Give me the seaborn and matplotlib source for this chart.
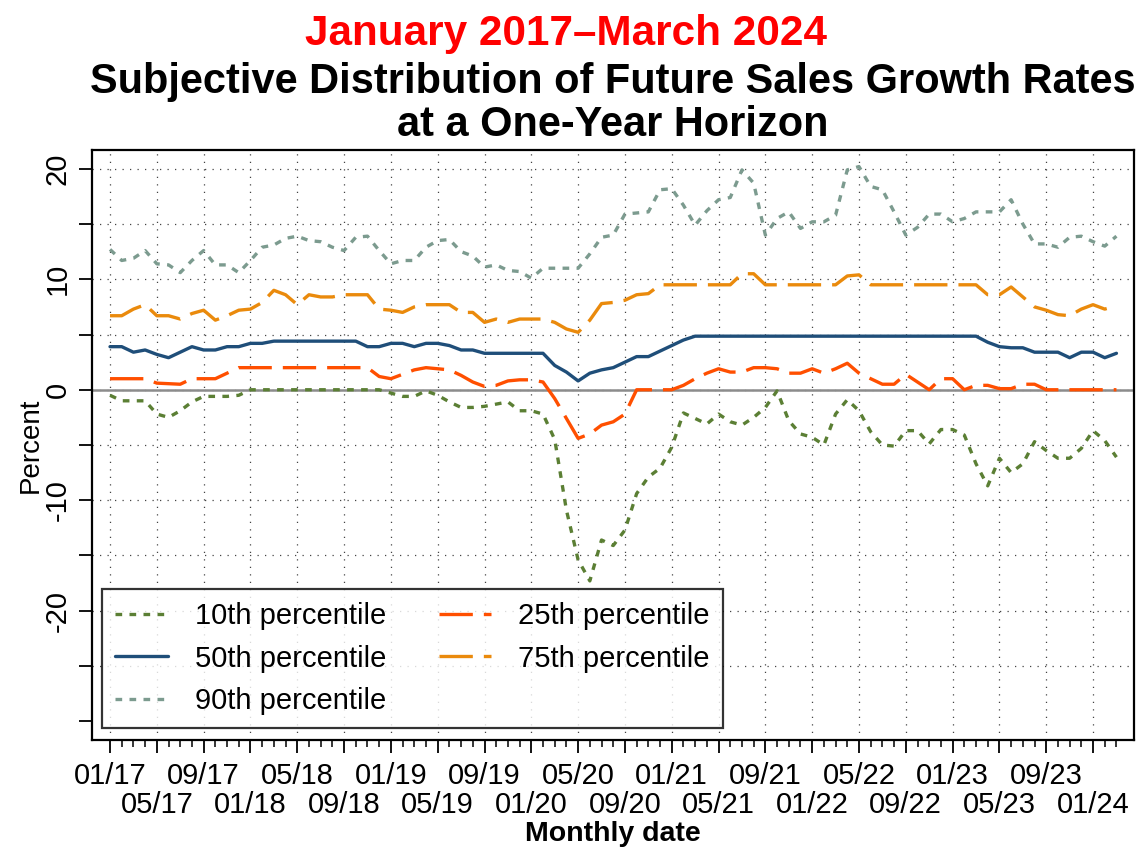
import numpy as np
import pandas as pd
import matplotlib
matplotlib.use("Agg")
import matplotlib.pyplot as plt
import seaborn as sns

# monthly dates, Jan 2017 - Mar 2024
months = pd.date_range("2017-01-01", "2024-03-01", freq="MS")

# percentiles of the subjective sales growth distribution
p10 = [-0.5, -1.0, -1.0, -1.0, -2.2, -2.5, -1.9, -1.1, -0.6, -0.6, -0.6, -0.5,
       0.0, 0.0, 0.0, 0.0, 0.0, 0.0, 0.0, 0.0, 0.0, 0.0, 0.0, 0.0,
       -0.3, -0.6, -0.6, -0.1, -0.5, -1.1, -1.6, -1.6, -1.5, -1.3, -1.1, -1.9,
       -1.9, -2.2, -4.5, -10.9, -15.4, -17.3, -13.6, -14.1, -12.7, -9.4, -7.9, -7.1,
       -5.2, -2.1, -2.6, -3.1, -2.2, -2.9, -3.2, -2.5, -1.6, -0.1, -2.8, -4.0,
       -4.3, -5.0, -2.2, -0.9, -1.9, -3.8, -5.0, -5.1, -3.7, -3.7, -4.9, -3.6,
       -3.6, -4.1, -6.7, -8.7, -6.2, -7.5, -6.7, -4.7, -5.5, -6.2, -6.2, -5.3,
       -3.7, -4.6, -6.1]
p25 = [1.0, 1.0, 1.0, 1.0, 0.6, 0.55, 0.5, 1.0, 1.0, 1.0, 1.5, 2.0,
       2.0, 2.0, 2.0, 2.0, 2.0, 2.0, 2.0, 2.0, 2.0, 2.0, 2.0, 1.2,
       1.0, 1.4, 1.8, 2.0, 1.9, 1.8, 1.3, 0.7, 0.3, 0.4, 0.8, 0.9,
       0.9, 0.7, -0.8, -2.6, -4.4, -4.0, -3.2, -2.9, -2.2, 0.0, 0.0, 0.0,
       0.0, 0.4, 1.0, 1.5, 1.9, 1.6, 1.6, 2.0, 2.0, 1.9, 1.5, 1.5,
       1.9, 1.5, 1.9, 2.4, 1.5, 1.0, 0.5, 0.5, 1.4, 0.7, 0.0, 1.0,
       1.0, 0.0, 0.4, 0.4, 0.1, 0.1, 0.5, 0.5, 0.0, 0.0, 0.0, 0.0,
       0.0, 0.0, 0.0]
p50 = [3.9, 3.9, 3.4, 3.6, 3.2, 2.9, 3.4, 3.9, 3.6, 3.6, 3.9, 3.9,
       4.2, 4.2, 4.4, 4.4, 4.4, 4.4, 4.4, 4.4, 4.4, 4.4, 3.9, 3.9,
       4.2, 4.2, 3.9, 4.2, 4.2, 4.0, 3.6, 3.6, 3.3, 3.3, 3.3, 3.3,
       3.3, 3.3, 2.2, 1.6, 0.8, 1.5, 1.8, 2.0, 2.5, 3.0, 3.0, 3.5,
       4.0, 4.5, 4.85, 4.85, 4.85, 4.85, 4.85, 4.85, 4.85, 4.85, 4.85, 4.85,
       4.85, 4.85, 4.85, 4.85, 4.85, 4.85, 4.85, 4.85, 4.85, 4.85, 4.85, 4.85,
       4.85, 4.85, 4.85, 4.3, 3.9, 3.8, 3.8, 3.4, 3.4, 3.4, 2.9, 3.4,
       3.4, 2.9, 3.3]
p75 = [6.7, 6.7, 7.3, 7.7, 6.7, 6.7, 6.4, 6.9, 7.2, 6.3, 6.7, 7.2,
       7.3, 7.9, 9.0, 8.6, 7.7, 8.6, 8.4, 8.4, 8.6, 8.6, 8.6, 7.3,
       7.2, 7.0, 7.5, 7.7, 7.7, 7.7, 7.0, 7.0, 6.1, 6.4, 6.1, 6.4,
       6.4, 6.4, 6.1, 5.5, 5.2, 6.3, 7.8, 7.9, 8.1, 8.6, 8.7, 9.5,
       9.5, 9.5, 9.5, 9.5, 9.5, 9.5, 10.5, 10.5, 9.5, 9.5, 9.5, 9.5,
       9.5, 9.5, 9.5, 10.3, 10.4, 9.5, 9.5, 9.5, 9.5, 9.5, 9.5, 9.5,
       9.5, 9.5, 9.5, 8.6, 8.6, 9.3, 8.4, 7.5, 7.2, 6.8, 6.7, 7.3,
       7.7, 7.3, 7.6]
p90 = [12.7, 11.7, 11.9, 12.6, 11.4, 11.3, 10.6, 11.7, 12.6, 11.3, 11.3, 10.6,
       11.7, 12.9, 13.1, 13.7, 13.9, 13.5, 13.4, 12.9, 12.6, 13.8, 13.9, 12.6,
       11.4, 11.7, 11.7, 12.9, 13.5, 13.6, 12.5, 12.1, 11.1, 11.3, 10.8, 10.7,
       10.1, 11.0, 11.0, 11.0, 11.0, 12.3, 13.8, 14.0, 15.9, 16.0, 16.1, 18.1,
       18.2, 16.7, 14.9, 16.2, 17.2, 17.4, 19.9, 18.7, 14.0, 15.5, 16.1, 14.6,
       15.2, 15.2, 15.8, 19.9, 20.2, 18.4, 18.1, 16.1, 14.0, 14.7, 15.9, 15.9,
       15.2, 15.5, 16.1, 16.1, 16.1, 17.2, 15.0, 13.2, 13.2, 12.9, 13.8, 13.9,
       13.4, 13.0, 13.9]

series_names = ["10th percentile", "25th percentile", "50th percentile",
                "75th percentile", "90th percentile"]
y_ticks = [-30, -25, -20, -15, -10, -5, 0, 5, 10, 15, 20]
y_tick_labels = ["", "", "-20", "", "-10", "", "0", "", "10", "", "20"]

colors = {"10th percentile": "#5b7f34", "25th percentile": "#ff4f00",
          "50th percentile": "#1f4e79", "75th percentile": "#ea8a0c",
          "90th percentile": "#7c9b8f"}
dashes = {"10th percentile": (2, 2.2), "25th percentile": (10, 3.3),
          "50th percentile": "", "75th percentile": (10, 3.3),
          "90th percentile": (2, 2.2)}

df = pd.DataFrame({"t": np.arange(len(months))})
for name, vals in zip(series_names, [p10, p25, p50, p75, p90]):
    df[name] = vals
long = df.melt(id_vars="t", var_name="series", value_name="value")

sns.set_style("ticks")
plt.rcParams["font.family"] = ["Liberation Sans", "DejaVu Sans"]
plt.rcParams.update({"text.color": "black", "axes.labelcolor": "black",
                     "xtick.color": "black", "ytick.color": "black"})

fig = plt.figure(figsize=(11.4, 8.49), dpi=100)
ax = fig.add_axes([92 / 1140, 1 - 740 / 849, 1042 / 1140, 590 / 849])

sns.lineplot(data=long, x="t", y="value", hue="series", style="series",
             hue_order=series_names, style_order=series_names,
             palette=colors, dashes=dashes, linewidth=2.4, ax=ax, legend=False)
ax.axhline(0, color="#8c8c8c", lw=1.8, zorder=1.8)

ax.set_xlim(-1.54, 87.5)
ax.set_ylim(-31.7, 21.7)

# x ticks: every 4 months, labels staggered in two rows
major = np.arange(0, len(months), 4)
ax.set_xticks(major)
ax.set_xticklabels([months[i].strftime("%m/%y") for i in major])
ax.set_xticks(np.arange(len(months)), minor=True)

ax.set_yticks(y_ticks)
ax.set_yticklabels(y_tick_labels)
ax.tick_params(axis="x", which="major", length=9, width=1.3, labelsize=21, pad=7)
ax.tick_params(axis="x", which="minor", length=5, width=1.1)
ax.tick_params(axis="y", which="major", length=9.5, width=1.3, labelsize=21, pad=5,
               labelrotation=90)
for t in ax.get_yticklabels():
    t.set_va("center")
for k, tick in enumerate(ax.xaxis.get_major_ticks()):
    if k % 2 == 1:
        tick.set_pad(28)

ax.grid(True, which="major", color="#444444", linestyle=(0, (1, 5)), linewidth=0.9)
ax.yaxis.get_major_ticks()[0].gridline.set_visible(False)

for sp in ax.spines.values():
    sp.set_color("black")
    sp.set_linewidth(1.6)

ax.set_ylabel("Percent", fontsize=20)
ax.yaxis.set_label_coords(-0.046, 0.5)
ax.set_xlabel("Monthly date", fontsize=20.5, fontweight="bold")
ax.xaxis.set_label_coords(0.5, -0.137)

# legend filled row-wise like the original
order = [0, 2, 4, 1, 3]
lines = ax.lines[:5]
leg = ax.legend([lines[i] for i in order], [series_names[i] for i in order],
                ncol=2, loc="lower left", bbox_to_anchor=(0.0096, 0.0203),
                borderaxespad=0, frameon=True, fancybox=False, edgecolor="black",
                fontsize=21, handlelength=1.8, handletextpad=0.93,
                columnspacing=1.8, labelspacing=0.49, borderpad=0.45)
leg.get_frame().set_linewidth(1.6)

fig.text(566 / 1140, 1 - 45 / 849, "January 2017\u2013March 2024", color="red",
         fontsize=30.4, fontweight="bold", ha="center", va="baseline")
fig.text(613 / 1140, 1 - 93 / 849, "Subjective Distribution of Future Sales Growth Rates",
         fontsize=29.9, fontweight="bold", ha="center", va="baseline")
fig.text(613 / 1140, 1 - 136 / 849, "at a One-Year Horizon",
         fontsize=29.9, fontweight="bold", ha="center", va="baseline")

fig.savefig("out.png", dpi=100)
